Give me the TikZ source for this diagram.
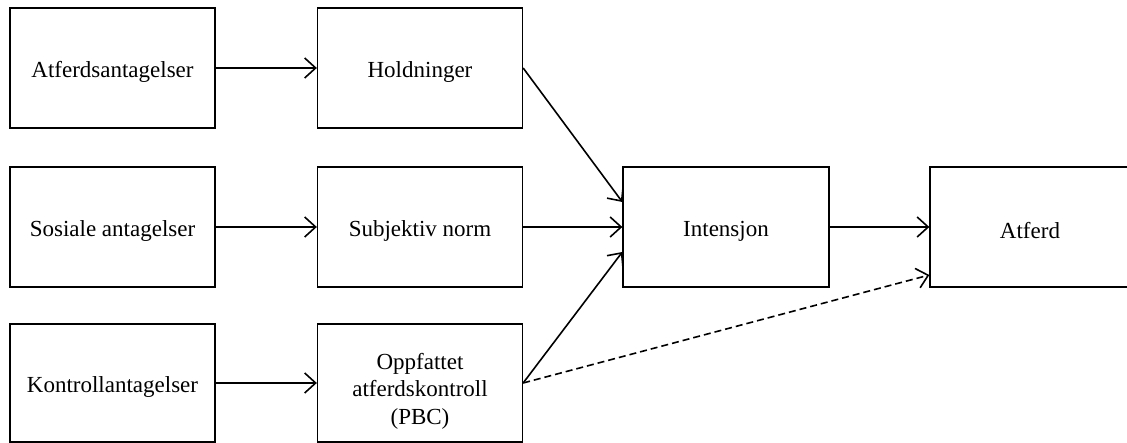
\documentclass[tikz,border=0pt]{standalone}
\usepackage{fontspec}
\setmainfont{Liberation Serif}
\usetikzlibrary{arrows.meta}
\begin{document}
\begin{tikzpicture}[x=1pt,y=1pt,
  box/.style={draw, line width=1.3pt, minimum width=205pt, minimum height=120pt, inner sep=0pt},
  lab/.style={inner sep=0pt, align=center, font=\fontsize{23}{27.5}\selectfont, yshift=-4pt},
  conn/.style={line width=1.6pt, -{Straight Barb[length=11pt,width=20pt,line width=1.6pt]}},
  dashconn/.style={conn, dash pattern=on 7pt off 4pt}]
\useasboundingbox (0,0) rectangle (1127,443);
\node[box, label={[lab]center:Atferdsantagelser}] (a1) at (112.5,375) {};
\node[box, label={[lab]center:Holdninger}] (h) at (420,375) {};
\node[box, label={[lab]center:Sosiale antagelser}] (s1) at (112.5,216) {};
\node[box, label={[lab]center:Subjektiv norm}] (sn) at (420,216) {};
\node[box, minimum height=118pt, label={[lab]center:Kontrollantagelser}] (k) at (112.5,60) {};
\node[box, minimum height=118pt, label={[lab,yshift=-4pt]center:Oppfattet\\atferdskontroll\\(PBC)}] (pbc) at (420,60) {};
\node[box, minimum width=206pt, label={[lab]center:Intensjon}] (i) at (726,216) {};
\node[box, minimum width=200pt, label={[lab]center:Atferd}] (at) at (1030,216) {};
\draw[conn] (a1.east) -- (h.west);
\draw[conn] (s1.east) -- (sn.west);
\draw[conn] (k.east) -- (pbc.west);
\draw[conn] (h.east) -- ([yshift=25pt]i.west);
\draw[conn] (sn.east) -- (i.west);
\draw[conn] (pbc.east) -- ([yshift=-25pt]i.west);
\draw[conn] (i.east) -- (at.west);
\draw[dashconn] (pbc.east) -- ([yshift=-48pt]at.west);
\end{tikzpicture}
\end{document}
